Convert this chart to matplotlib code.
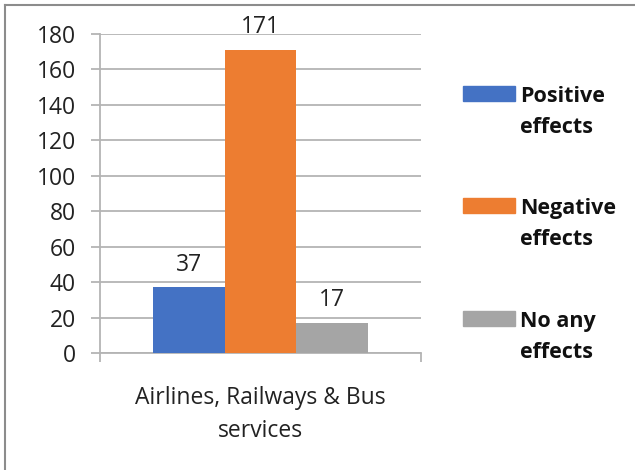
import matplotlib.pyplot as plt
from matplotlib.patches import Rectangle
from matplotlib.lines import Line2D

# survey counts for the transport sector
category = 'Airlines, Railways & Bus\nservices'
series = ['Positive\neffects', 'Negative\neffects', 'No any\neffects']
counts = [37, 171, 17]
colors = ['#4472C4', '#ED7D31', '#A5A5A5']
yticks = [0, 20, 40, 60, 80, 100, 120, 140, 160, 180]

plt.rcParams['font.family'] = ['Open Sans', 'DejaVu Sans']
fs = 16.5

W, H = 635, 470
fig = plt.figure(figsize=(W / 100, H / 100), dpi=100)
ax = fig.add_axes([100 / W, 1 - 353 / H, 321 / W, 319 / H])

bw = 0.2227
offsets = [-bw, 0, bw]
for off, val, col in zip(offsets, counts, colors):
    ax.bar(off, val, width=bw, color=col, zorder=3)
    ax.text(off, val + 6, str(val), ha='center', va='bottom', fontsize=fs,
            color='#222222')

ax.set_xlim(-0.5, 0.5)
ax.set_ylim(0, 180)
ax.set_yticks(yticks)
ax.yaxis.grid(True, color='#b4b4b4', linewidth=1.3, zorder=0)
ax.set_axisbelow(True)

ax.set_xticks([0])
ax.set_xticklabels([category], fontsize=fs, color='#222222', linespacing=1.5)
ax.set_xticks([-0.5, 0.5], minor=True)
ax.tick_params(axis='x', which='major', length=0, pad=24)
ax.tick_params(axis='x', which='minor', length=6.5, color='#b4b4b4', width=1.3)
ax.tick_params(axis='y', length=6.5, color='#b4b4b4', width=1.3,
               labelsize=fs, labelcolor='#222222', pad=11)

for s in ['top', 'right']:
    ax.spines[s].set_visible(False)
for s in ['left', 'bottom']:
    ax.spines[s].set_color('#b4b4b4')
    ax.spines[s].set_linewidth(1.3)

# legend entries down the right-hand side
legend_tops = [86, 198, 311]
for top, lab, col in zip(legend_tops, series, colors):
    fig.patches.append(Rectangle((463 / W, 1 - (top + 15) / H), 52 / W, 15 / H,
                                 transform=fig.transFigure, color=col))
    fig.text(520 / W, 1 - top / H, lab, ha='left', va='top',
             fontsize=15.5, fontweight='bold', color='#111111', linespacing=1.6)

# chart frame
fig.add_artist(Line2D([5 / W, 5 / W], [0, 1 - 5 / H], transform=fig.transFigure,
                      color='#8c8c8c', linewidth=1.5))
fig.add_artist(Line2D([5 / W, 1], [1 - 5 / H, 1 - 5 / H], transform=fig.transFigure,
                      color='#8c8c8c', linewidth=1.5))

fig.savefig('out.png', dpi=100)
